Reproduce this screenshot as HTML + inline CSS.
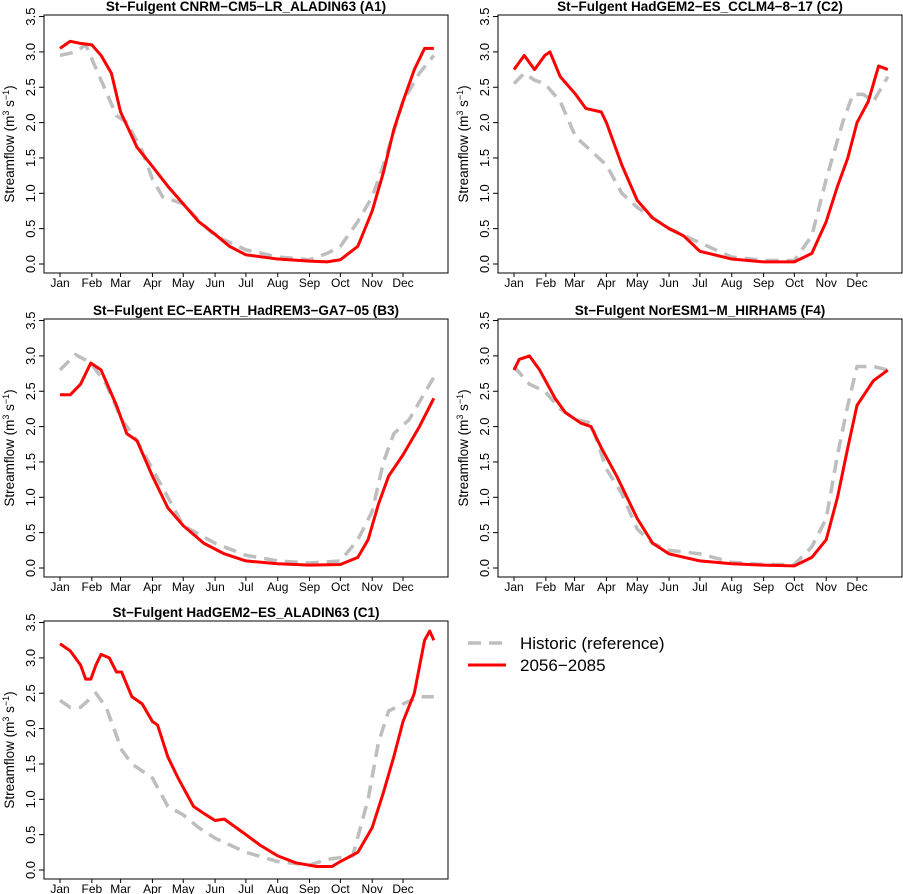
<!DOCTYPE html>
<html><head><meta charset="utf-8"><style>
body{margin:0;background:#fff}
svg{display:block;font-family:"Liberation Sans",Arial,sans-serif}
</style></head><body>
<svg id="c" width="903" height="894" viewBox="0 0 903 894"></svg>
<script>
const months=["Jan","Feb","Mar","Apr","May","Jun","Jul","Aug","Sep","Oct","Nov","Dec"];
const monthStarts=[0,31,59,90,120,151,181,212,243,273,304,334];
const yTicks=[0,0.5,1,1.5,2,2.5,3,3.5];
const titles=["St\u2212Fulgent CNRM\u2212CM5\u2212LR_ALADIN63 (A1)","St\u2212Fulgent HadGEM2\u2212ES_CCLM4\u22128\u221217 (C2)","St\u2212Fulgent EC\u2212EARTH_HadREM3\u2212GA7\u221205 (B3)","St\u2212Fulgent NorESM1\u2212M_HIRHAM5 (F4)","St\u2212Fulgent HadGEM2\u2212ES_ALADIN63 (C1)"];
const panelIds=["a1","c2","b3","f4","c1"];
// [day, value] pairs
const futA1=[[0,3.05],[10,3.15],[20,3.12],[31,3.1],[40,2.95],[50,2.7],[59,2.15],[75,1.65],[90,1.38],[105,1.1],[120,0.85],[135,0.6],[151,0.42],[165,0.25],[181,0.13],[212,0.07],[243,0.04],[260,0.03],[273,0.06],[290,0.25],[304,0.75],[315,1.3],[325,1.9],[334,2.3],[345,2.75],[355,3.05],[364,3.05]];
const histA1=[[0,2.95],[15,3.0],[25,3.1],[40,2.6],[55,2.1],[65,2.0],[80,1.6],[90,1.2],[100,0.95],[120,0.85],[135,0.62],[151,0.4],[181,0.2],[212,0.1],[243,0.06],[260,0.15],[273,0.25],[290,0.6],[304,0.95],[315,1.4],[334,2.3],[350,2.7],[364,2.95]];
const futC2=[[0,2.75],[5,2.85],[10,2.95],[20,2.75],[30,2.95],[35,3.0],[45,2.65],[60,2.4],[70,2.2],[85,2.15],[90,2.0],[105,1.4],[120,0.9],[135,0.65],[151,0.5],[165,0.4],[181,0.18],[212,0.07],[243,0.03],[273,0.03],[290,0.15],[304,0.6],[315,1.1],[325,1.5],[334,2.0],[345,2.3],[355,2.8],[364,2.75]];
const histC2=[[0,2.55],[10,2.7],[20,2.6],[30,2.55],[45,2.3],[60,1.8],[75,1.6],[90,1.4],[105,1.0],[120,0.8],[151,0.5],[181,0.3],[212,0.1],[243,0.05],[273,0.05],[290,0.4],[304,1.2],[320,2.0],[330,2.4],[340,2.4],[350,2.3],[364,2.65]];
const futB3=[[0,2.45],[10,2.45],[20,2.6],[30,2.9],[40,2.8],[55,2.3],[65,1.9],[75,1.8],[90,1.3],[105,0.85],[120,0.6],[140,0.35],[160,0.2],[181,0.1],[212,0.06],[243,0.04],[273,0.05],[290,0.15],[300,0.4],[310,0.9],[320,1.3],[334,1.6],[350,2.0],[364,2.4]];
const histB3=[[0,2.8],[15,3.02],[30,2.9],[45,2.6],[60,2.1],[75,1.8],[90,1.4],[120,0.6],[151,0.35],[181,0.18],[212,0.1],[243,0.07],[273,0.1],[290,0.4],[304,0.8],[315,1.5],[325,1.9],[340,2.1],[364,2.7]];
const futF4=[[0,2.8],[5,2.95],[15,3.0],[25,2.8],[40,2.4],[50,2.2],[65,2.05],[75,2.0],[85,1.7],[100,1.3],[110,1.0],[120,0.7],[135,0.35],[151,0.2],[181,0.1],[212,0.06],[243,0.04],[273,0.03],[290,0.15],[304,0.4],[315,1.0],[325,1.7],[334,2.3],[350,2.65],[364,2.8]];
const histF4=[[0,2.85],[15,2.6],[30,2.5],[45,2.25],[60,2.1],[75,2.05],[90,1.4],[105,1.05],[120,0.55],[135,0.35],[151,0.25],[181,0.2],[212,0.08],[243,0.05],[273,0.05],[290,0.3],[304,0.7],[315,1.6],[325,2.3],[334,2.85],[350,2.85],[364,2.8]];
const futC1=[[0,3.2],[10,3.1],[20,2.9],[25,2.7],[30,2.7],[35,2.9],[40,3.05],[48,3.0],[55,2.8],[60,2.8],[70,2.45],[80,2.35],[90,2.1],[95,2.05],[105,1.6],[115,1.3],[130,0.9],[140,0.8],[151,0.7],[160,0.72],[181,0.5],[195,0.35],[212,0.2],[230,0.1],[250,0.05],[265,0.05],[273,0.12],[290,0.25],[304,0.6],[315,1.1],[325,1.6],[334,2.1],[345,2.5],[355,3.25],[360,3.38],[364,3.25]];
const histC1=[[0,2.4],[10,2.3],[20,2.3],[35,2.5],[45,2.3],[60,1.7],[70,1.5],[90,1.3],[105,0.9],[120,0.78],[135,0.6],[151,0.45],[181,0.25],[212,0.12],[243,0.07],[260,0.15],[285,0.2],[300,1.0],[310,1.8],[320,2.25],[334,2.35],[350,2.45],[364,2.45]];
const futSeries=[futA1,futC2,futB3,futF4,futC1];
const histSeries=[histA1,histC2,histB3,histF4,histC1];

const NS="http://www.w3.org/2000/svg";
const svg=document.getElementById("c");
function mk(t,a,p){const e=document.createElementNS(NS,t);for(const k in a)e.setAttribute(k,a[k]);(p||svg).appendChild(e);return e;}
const lefts=[44,498,44,498,44], tops=[15,15,319,319,621];
const W=404,H=258;
for(let i=0;i<5;i++){
  const L=lefts[i],T=tops[i];
  const g=mk("g",{});
  
  
  const xS=d=>L+16+d*1.027;
  const yS=v=>T+249-v*70.7;
  const t=mk("text",{x:L+W/2,y:T-4,"text-anchor":"middle","font-size":"13.5","font-weight":"bold"},g);
  t.textContent=titles[i];
  
  
  const box=mk("rect",{x:L,y:T,width:W,height:H,fill:"none",stroke:"#000","stroke-width":"1"},g);
  
  
  yTicks.forEach(v=>{
    const y=yS(v);
    mk("line",{x1:L-5,x2:L,y1:y,y2:y,stroke:"#000"},g);
    const tx=mk("text",{x:L-9,y:y,"font-size":"13","text-anchor":"middle",transform:`rotate(-90 ${L-9} ${y})`},g);
    tx.textContent=v.toFixed(1);
    
    
  });
  const yt=mk("text",{x:L-30,y:T+H/2,"font-size":"13.5","text-anchor":"middle",transform:`rotate(-90 ${L-30} ${T+H/2})`},g);
  yt.innerHTML='Streamflow (m<tspan dy="-5" font-size="9">3</tspan><tspan dy="5"> s</tspan><tspan dy="-5" font-size="9">\u22121</tspan><tspan dy="5">)</tspan>';
  
  
  months.forEach((m,k)=>{
    const x=xS(monthStarts[k]);
    mk("line",{x1:x,x2:x,y1:T+H,y2:T+H+4,stroke:"#000"},g);
    const tx=mk("text",{x:x,y:T+H+14,"font-size":"12","text-anchor":"middle"},g);
    tx.textContent=m;
    
    
  });
  const h=mk("polyline",{points:histSeries[i].map(p=>xS(p[0])+","+yS(p[1])).join(" "),fill:"none",stroke:"#bebebe","stroke-width":"3.5","stroke-dasharray":"13 8","stroke-linejoin":"round"},g);
  
  
  const f=mk("polyline",{points:futSeries[i].map(p=>xS(p[0])+","+yS(p[1])).join(" "),fill:"none",stroke:"#ff0000","stroke-width":"3","stroke-linejoin":"round"},g);
  
  
}
const lg=mk("g",{});


mk("line",{x1:468,x2:506,y1:643,y2:643,stroke:"#bebebe","stroke-width":"3.5","stroke-dasharray":"13 8"},lg);
const l1=mk("text",{x:520,y:649,"font-size":"17"},lg);l1.textContent="Historic (reference)";


mk("line",{x1:468,x2:506,y1:665,y2:665,stroke:"#ff0000","stroke-width":"3"},lg);
const l2=mk("text",{x:520,y:671,"font-size":"17"},lg);l2.textContent="2056\u22122085";


</script>
</body></html>
